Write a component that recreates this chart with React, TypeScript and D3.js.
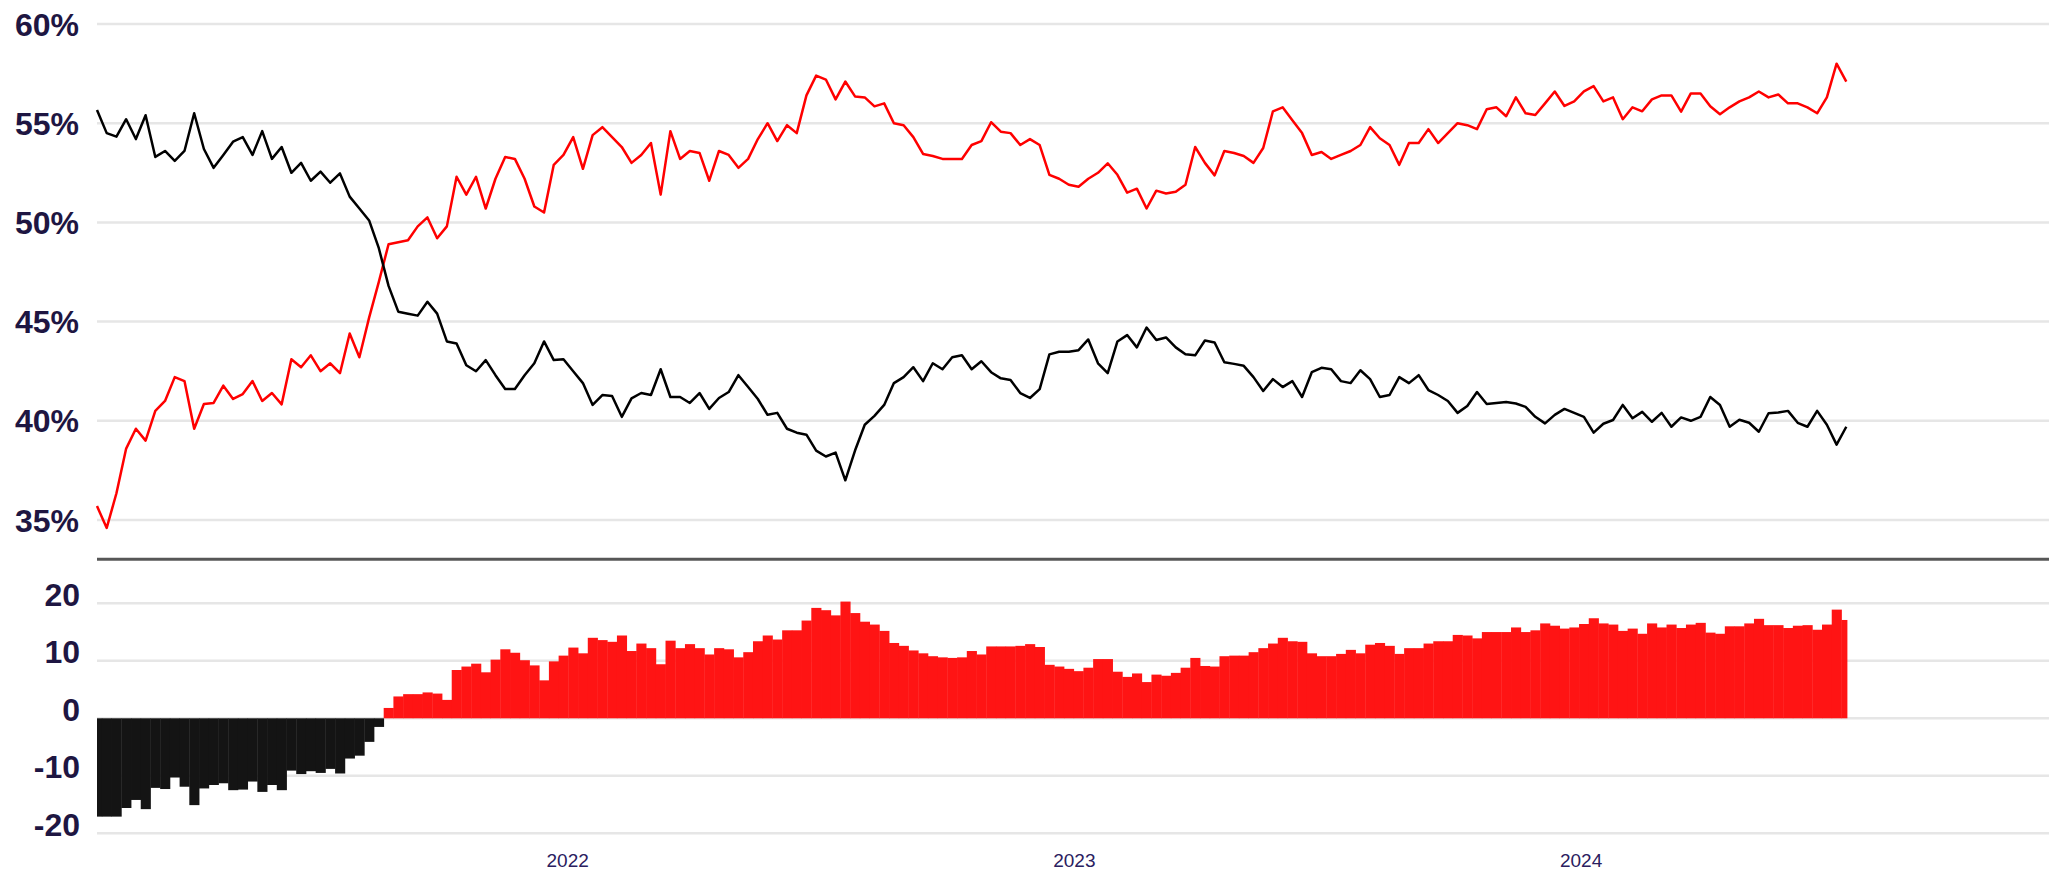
import React, { useEffect } from "react";
import * as d3 from "d3";

// weekly samples starting 2021-01-27
const START = new Date(2021, 0, 27);

const blackValues = [
  55.67, 54.5, 54.32, 55.2, 54.2, 55.4, 53.3, 53.6, 53.1, 53.6,
  55.5, 53.7, 52.75, 53.4, 54.07, 54.3, 53.4, 54.6, 53.2, 53.8,
  52.5, 53.0, 52.1, 52.56, 52.0, 52.47, 51.3, 50.7, 50.1, 48.7,
  46.8, 45.5, 45.4, 45.3, 46.0, 45.4, 44.0, 43.9, 42.8, 42.5,
  43.06, 42.3, 41.6, 41.6, 42.3, 42.9, 44.0, 43.06, 43.1, 42.5,
  41.9, 40.8, 41.3, 41.25, 40.2, 41.13, 41.4, 41.3, 42.6, 41.2,
  41.2, 40.9, 41.4, 40.6, 41.15, 41.45, 42.3, 41.7, 41.1, 40.3,
  40.4, 39.6, 39.4, 39.3, 38.5, 38.2, 38.4, 37.0, 38.5, 39.8,
  40.25, 40.8, 41.9, 42.2, 42.7, 42.0, 42.9, 42.6, 43.2, 43.3,
  42.6, 43.0, 42.45, 42.14, 42.06, 41.4, 41.15, 41.6, 43.35, 43.48,
  43.48, 43.56, 44.1, 42.9, 42.4, 44.0, 44.32, 43.7, 44.7, 44.07,
  44.2, 43.7, 43.35, 43.3, 44.05, 43.95, 42.95, 42.87, 42.77, 42.2,
  41.5, 42.1, 41.7, 42.0, 41.2, 42.45, 42.67, 42.6, 42.0, 41.9,
  42.55, 42.1, 41.2, 41.3, 42.2, 41.9, 42.3, 41.55, 41.3, 41.0,
  40.4, 40.75, 41.45, 40.85, 40.9, 40.95, 40.87, 40.7, 40.2, 39.87,
  40.3, 40.6, 40.4, 40.2, 39.4, 39.85, 40.04, 40.8, 40.13, 40.45,
  39.95, 40.4, 39.7, 40.17, 40.0, 40.2, 41.2, 40.8, 39.7, 40.05,
  39.9, 39.45, 40.38, 40.42, 40.5, 39.9, 39.7, 40.5, 39.8, 38.8,
  39.7,
];

const redValues = [
  35.7, 34.6, 36.35, 38.6, 39.6, 39.0, 40.5, 41.0, 42.2, 42.0,
  39.6, 40.85, 40.9, 41.77, 41.1, 41.35, 42.0, 41.0, 41.4, 40.83,
  43.1, 42.7, 43.3, 42.5, 42.9, 42.4, 44.4, 43.2, 45.2, 47.0,
  48.9, 49.0, 49.1, 49.8, 50.25, 49.2, 49.8, 52.3, 51.4, 52.3,
  50.7, 52.2, 53.3, 53.2, 52.2, 50.8, 50.5, 52.9, 53.4, 54.3,
  52.7, 54.4, 54.8, 54.3, 53.8, 53.0, 53.4, 54.0, 51.4, 54.6,
  53.2, 53.6, 53.5, 52.1, 53.6, 53.4, 52.75, 53.2, 54.2, 55.0,
  54.1, 54.9, 54.5, 56.4, 57.4, 57.2, 56.2, 57.1, 56.35, 56.3,
  55.85, 56.0, 55.0, 54.9, 54.3, 53.45, 53.35, 53.2, 53.2, 53.2,
  53.9, 54.1, 55.05, 54.57, 54.5, 53.9, 54.2, 53.9, 52.4, 52.2,
  51.9, 51.8, 52.2, 52.5, 52.98, 52.4, 51.5, 51.7, 50.7, 51.6,
  51.46, 51.55, 51.9, 53.8, 53.0, 52.37, 53.6, 53.5, 53.35, 53.0,
  53.75, 55.6, 55.8, 55.15, 54.5, 53.4, 53.55, 53.2, 53.4, 53.6,
  53.9, 54.8, 54.24, 53.9, 52.9, 54.0, 54.0, 54.7, 54.0, 54.5,
  55.0, 54.9, 54.7, 55.7, 55.8, 55.35, 56.3, 55.5, 55.41, 56.0,
  56.6, 55.87, 56.1, 56.6, 56.87, 56.1, 56.3, 55.2, 55.8, 55.6,
  56.2, 56.4, 56.4, 55.58, 56.5, 56.5, 55.85, 55.45, 55.8, 56.1,
  56.3, 56.6, 56.3, 56.45, 56.0, 56.0, 55.8, 55.5, 56.3, 58.0,
  57.1,
];

const netValues = [
  -17.1, -17.1, -17.1, -15.6, -14.2, -15.8, -12.1, -12.3, -10.3, -11.9,
  -15.1, -12.2, -11.6, -11.3, -12.5, -12.4, -11.0, -12.8, -11.6, -12.5,
  -9.1, -9.7, -9.2, -9.5, -8.8, -9.6, -7.0, -6.5, -4.1, -1.5,
  1.8, 3.8, 4.2, 4.2, 4.5, 4.3, 3.2, 8.4, 9.0, 9.5,
  8.0, 10.2, 12.0, 11.4, 10.1, 9.2, 6.6, 9.9, 10.9, 12.3,
  11.3, 14.0, 13.6, 13.3, 14.4, 11.7, 13.0, 12.2, 9.4, 13.5,
  12.2, 12.9, 12.2, 11.1, 12.2, 12.0, 10.6, 11.5, 13.4, 14.4,
  13.7, 15.3, 15.3, 17.0, 19.2, 18.8, 17.9, 20.3, 18.3, 16.8,
  16.3, 15.2, 13.1, 12.6, 11.8, 11.3, 10.8, 10.6, 10.5, 10.6,
  11.7, 11.1, 12.5, 12.5, 12.5, 12.6, 12.9, 12.4, 9.3, 9.0,
  8.6, 8.2, 8.8, 10.3, 10.3, 8.1, 7.2, 7.8, 6.3, 7.6,
  7.4, 7.9, 8.8, 10.5, 9.1, 9.0, 10.8, 10.9, 10.9, 11.5,
  12.2, 13.0, 14.0, 13.4, 13.3, 11.3, 10.8, 10.8, 11.2, 11.9,
  11.3, 12.8, 13.1, 12.6, 11.2, 12.2, 12.2, 13.0, 13.4, 13.4,
  14.5, 14.4, 13.9, 15.0, 15.0, 15.0, 15.8, 15.0, 15.3, 16.5,
  16.1, 15.6, 15.8, 16.4, 17.4, 16.5, 16.3, 15.2, 15.6, 14.7,
  16.5, 15.8, 16.3, 15.7, 16.3, 16.6, 14.9, 14.7, 16.0, 16.0,
  16.5, 17.3, 16.2, 16.2, 15.7, 16.1, 16.2, 15.4, 16.3, 18.9,
  17.1,
];

const topTicks = [60, 55, 50, 45, 40, 35];
const bottomTicks = [20, 10, 0, -10, -20];
const yearTicks = [2022, 2023, 2024];

const dates = blackValues.map((_, i) => d3.timeDay.offset(START, 7 * i));

const W = 2054;
const H = 871;
const LEFT = 97;
const RIGHT = 2049;
const DATA_END = 1847;

export default function App() {
  useEffect(() => {
    document.body.style.margin = "0";
  }, []);

  const x = d3
    .scaleTime()
    .domain([START, new Date(2024, 11, 3)])
    .range([LEFT, RIGHT]);
  const yTop = d3.scaleLinear().domain([35, 60]).range([520, 24]);
  const yBot = d3.scaleLinear().domain([-20, 20]).range([833.3, 603.3]);

  const line = d3
    .line<number>()
    .x((_, i) => x(dates[i]))
    .y((d) => yTop(d));

  const stepW = x(d3.timeDay.offset(START, 7)) - x(START);

  const labelFont = "'Liberation Sans', Arial, Helvetica, sans-serif";
  const textColor = "#1e1642";

  return (
    <svg width={W} height={H} style={{ display: "block", background: "#fff" }}>
      {topTicks.map((t) => (
        <line key={"tg" + t} x1={LEFT} x2={RIGHT} y1={yTop(t)} y2={yTop(t)} stroke="#e6e6e6" strokeWidth={2.5} />
      ))}
      {topTicks.map((t) => (
        <text
          key={"tl" + t}
          x={79}
          y={yTop(t)}
          dy="0.36em"
          textAnchor="end"
          fontFamily={labelFont}
          fontWeight="bold"
          fontSize={32}
          fill={textColor}
        >
          {t + "%"}
        </text>
      ))}

      {bottomTicks.map((t) => (
        <line key={"bg" + t} x1={LEFT} x2={RIGHT} y1={yBot(t)} y2={yBot(t)} stroke="#e6e6e6" strokeWidth={2.5} />
      ))}
      {bottomTicks.map((t) => (
        <text
          key={"bl" + t}
          x={80}
          y={yBot(t) - 9}
          dy="0.36em"
          textAnchor="end"
          fontFamily={labelFont}
          fontWeight="bold"
          fontSize={32}
          fill={textColor}
        >
          {String(t)}
        </text>
      ))}

      <line x1={LEFT} x2={RIGHT} y1={559.3} y2={559.3} stroke="#575757" strokeWidth={3} />

      {netValues.map((v, i) => {
        const cx = x(dates[i]);
        const x0 = Math.max(LEFT, cx - stepW / 2);
        const x1 = Math.min(DATA_END, cx + stepW / 2);
        const y0 = yBot(Math.max(0, v));
        const y1 = yBot(Math.min(0, v));
        return (
          <rect
            key={"b" + i}
            x={x0}
            y={y0}
            width={Math.max(0.5, x1 - x0 + 0.4)}
            height={Math.max(0.5, y1 - y0)}
            fill={v >= 0 ? "#ff1414" : "#141414"}
          />
        );
      })}

      <path d={line(redValues) || ""} fill="none" stroke="#ff0000" strokeWidth={2.5} strokeLinejoin="round" />
      <path d={line(blackValues) || ""} fill="none" stroke="#000000" strokeWidth={2.5} strokeLinejoin="round" />

      {yearTicks.map((yr) => (
        <text
          key={"y" + yr}
          x={x(new Date(yr, 0, 1))}
          y={860}
          dy="0.36em"
          textAnchor="middle"
          fontFamily={labelFont}
          fontSize={19}
          fill="#2a2060"
        >
          {String(yr)}
        </text>
      ))}
    </svg>
  );
}
